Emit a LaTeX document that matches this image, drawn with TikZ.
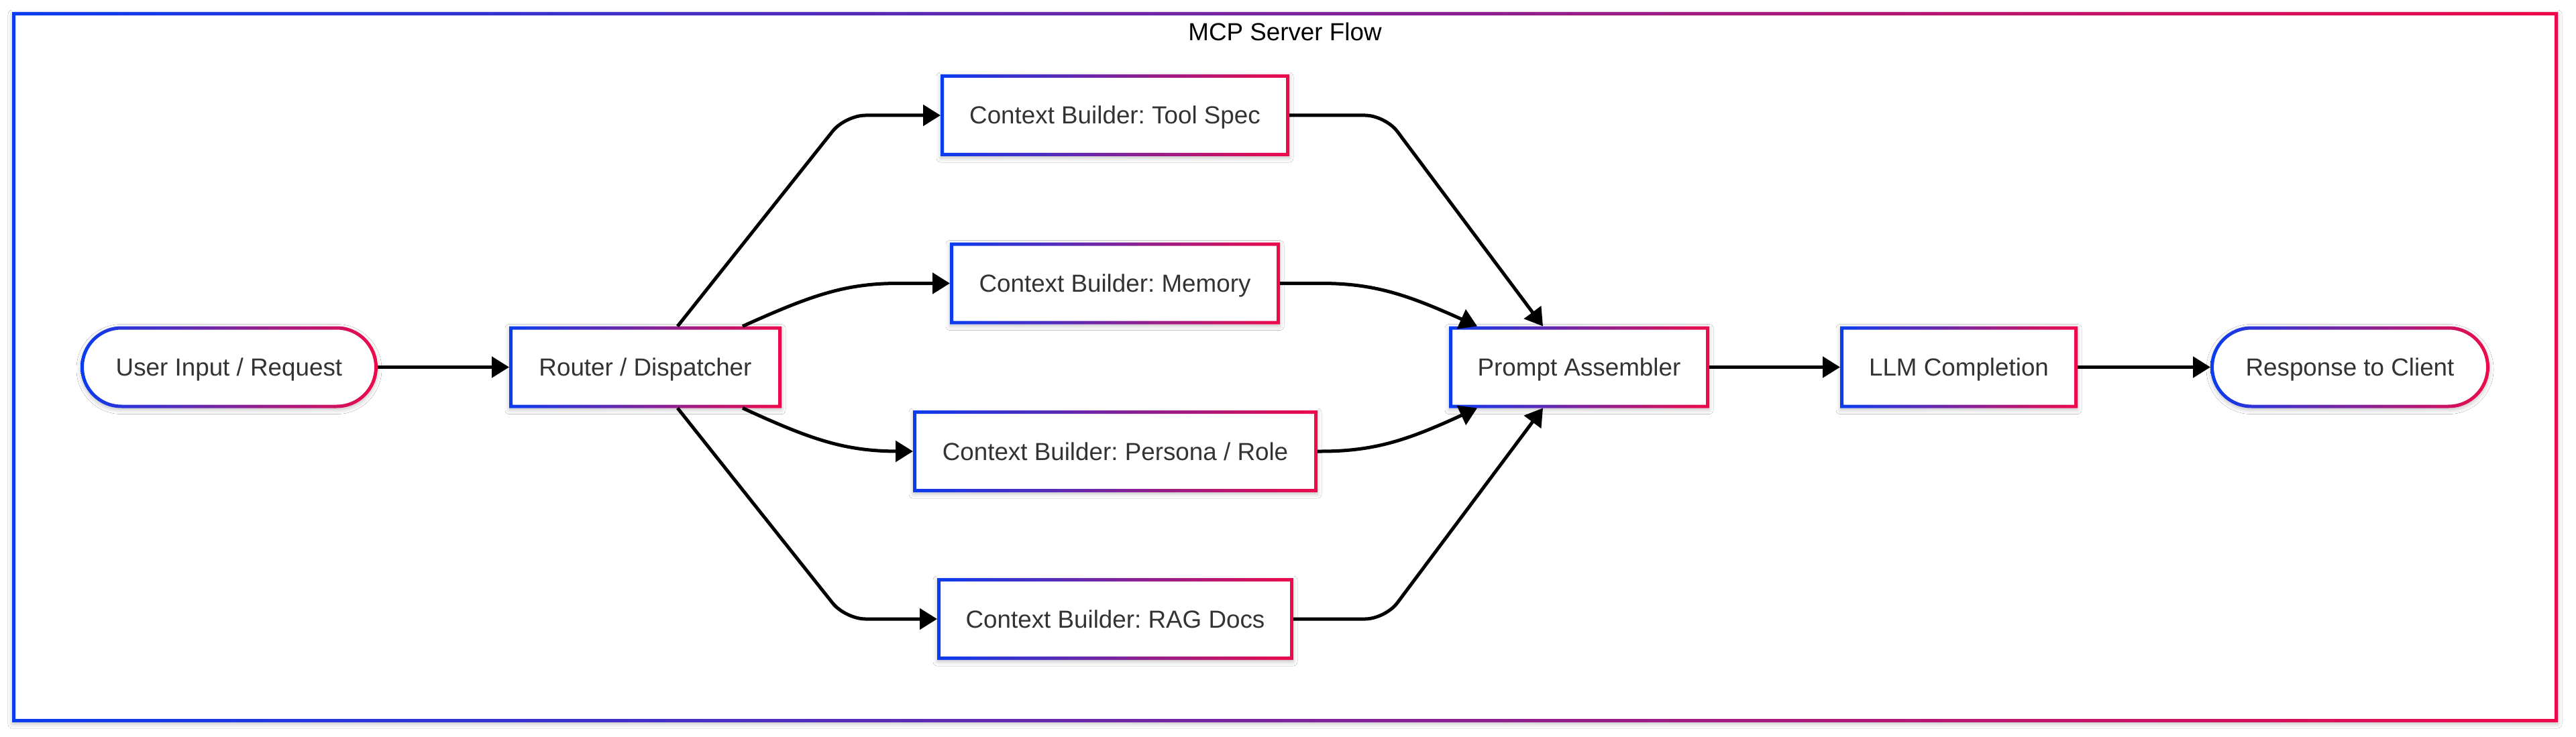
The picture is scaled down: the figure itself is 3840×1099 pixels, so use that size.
\documentclass[tikz,border=0pt]{standalone}
\usepackage{fontspec}
\setmainfont{Liberation Sans}
\usetikzlibrary{arrows.meta,shadows.blur}
\definecolor{gblue}{HTML}{0A3CF0}
\definecolor{gred}{HTML}{EE0A4A}
\definecolor{txt}{HTML}{333333}
\frenchspacing
\newcommand\gradrect[1]{\shade[left color=gblue,right color=gred,even odd rule]
  (#1.south west) rectangle (#1.north east)
  ([shift={(5pt,5pt)}]#1.south west) rectangle ([shift={(-5pt,-5pt)}]#1.north east);}
\newcommand\gradpill[1]{\shade[left color=gblue,right color=gred,even odd rule,rounded corners=61pt]
  (#1.south west) rectangle (#1.north east)
  [rounded corners=56pt]
  ([shift={(5pt,5pt)}]#1.south west) rectangle ([shift={(-5pt,-5pt)}]#1.north east);}
\begin{document}
\begin{tikzpicture}[x=1pt,y=-1pt,
  font=\fontsize{36.8}{44}\selectfont,
  softshadow/.style={blur shadow={shadow xshift=0pt,shadow yshift=-3pt,shadow blur radius=6pt,shadow opacity=22}},
  box/.style={rectangle,fill=white,inner sep=0pt,outer sep=0pt,minimum height=122pt,
    text=txt,text height=26pt,text depth=0pt,softshadow},
  pill/.style={box,rounded corners=61pt},
  conn/.style={line width=5pt,-{Triangle[length=26pt,width=31pt]},line join=round}]
\useasboundingbox (0,0) rectangle (3840,1099);
\fill[white] (0,0) rectangle (3840,1099);
% frame
\node[fill=white,inner sep=0pt,outer sep=0pt,minimum width=3795pt,minimum height=1059pt,softshadow] (frame) at (1915.5,547.5) {};
\gradrect{frame}
\node[text=black,inner sep=0pt,text height=26pt,text depth=0pt] (title) at (1915.5,48) {MCP Server Flow};
% nodes
\node[pill,minimum width=443pt] (user) at (341.5,547.5) {User Input / Request};
\node[box,minimum width=406pt] (router) at (962,547.5) {Router / Dispatcher};
\node[box,minimum width=520pt] (tool) at (1662,172) {Context Builder: Tool Spec};
\node[box,minimum width=492pt] (mem) at (1662,422.5) {Context Builder: Memory};
\node[box,minimum width=603pt] (persona) at (1662.5,673) {Context Builder: Persona / Role};
\node[box,minimum width=531pt] (rag) at (1662.5,923) {Context Builder: RAG Docs};
\node[box,minimum width=388pt] (prompt) at (2354,547.5) {Prompt Assembler};
\node[box,minimum width=354pt] (llm) at (2920,547.5) {LLM Completion};
\node[pill,minimum width=416pt] (resp) at (3503,547.5) {Response to Client};
\gradpill{user}
\gradrect{router}
\gradrect{tool}
\gradrect{mem}
\gradrect{persona}
\gradrect{rag}
\gradrect{prompt}
\gradrect{llm}
\gradpill{resp}
% connectors
\draw[conn] (user.east) -- (router.west);
\draw[conn,rounded corners=30pt] ([xshift=48pt]router.north) -- (1260,172) -- (tool.west);
\draw[conn] ([xshift=145pt]router.north) .. controls (1210,440) and (1260,422.5) .. (1340,422.5) -- (mem.west);
\draw[conn] ([xshift=145pt]router.south) .. controls (1210,656) and (1260,673) .. (1340,673) -- (persona.west);
\draw[conn,rounded corners=30pt] ([xshift=48pt]router.south) -- (1260,923) -- (rag.west);
\draw[conn,rounded corners=30pt] (tool.east) -- (2065,172) -- ([xshift=-54pt]prompt.north);
\draw[conn] (mem.east) -- (1969,422.5) .. controls (2049,422.5) and (2099,440) .. ([xshift=-152pt]prompt.north);
\draw[conn] (persona.east) -- (1969,673) .. controls (2049,673) and (2099,656) .. ([xshift=-152pt]prompt.south);
\draw[conn,rounded corners=30pt] (rag.east) -- (2065,923) -- ([xshift=-54pt]prompt.south);
\draw[conn] (prompt.east) -- (llm.west);
\draw[conn] (llm.east) -- (resp.west);
\end{tikzpicture}
\end{document}
